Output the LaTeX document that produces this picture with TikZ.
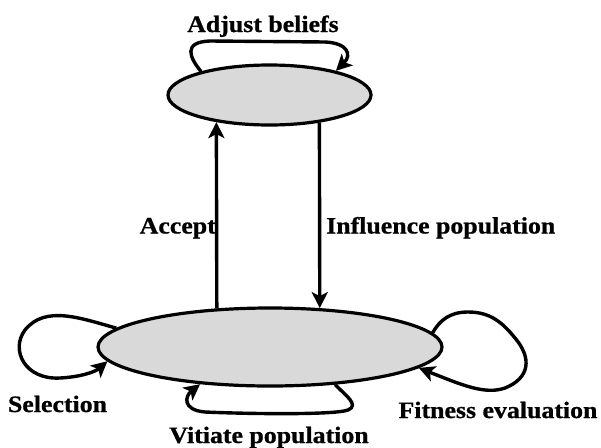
\documentclass[tikz,border=0pt]{standalone}
\usepackage{fontspec}
\setmainfont{Liberation Serif}[FakeStretch=1.1,BoldFeatures={FakeBold=0.8}]
\usetikzlibrary{arrows.meta,shapes.geometric}
\definecolor{fillgray}{HTML}{D9D9D9}
\tikzset{
  blob/.style={ellipse, draw=black, line width=3.2pt, fill=fillgray, inner sep=0pt},
  arr/.style={line width=3.4pt, -{Stealth[length=16pt,width=16pt,inset=4pt]}},
  lbl/.style={inner sep=0pt, font=\fontsize{23.5}{28}\selectfont\bfseries}
}
\begin{document}
\begin{tikzpicture}[x=1pt,y=-1pt]
\useasboundingbox (0,0) rectangle (601,447);
\node[blob, minimum width=203pt, minimum height=60pt] (cult) at (269.5,95) {};
\node[blob, minimum width=344pt, minimum height=78pt] (pop) at (270,347) {};
% vertical arrows
\draw[arr] (pop.144) -- (cult.207);
\draw[arr] (cult.331) -- (pop.38.6);
% adjust beliefs loop
\draw[arr] (cult.161.6) .. controls (190,58) and (182,42) .. (210,41)
  -- (325,42) .. controls (348,43) and (352,55) .. (cult.20.7);
% selection loop
\draw[arr] (pop.173.4) .. controls (80,318) and (45,305) .. (25,330)
  .. controls (10,350) and (25,380) .. (60,378)
  .. controls (80,377) and (95,372) .. (pop.185);
% fitness loop
\draw[arr] (pop.5.6) .. controls (440,320) and (450,312) .. (468,312)
  .. controls (490,312) and (502,322) .. (515,338)
  .. controls (532,358) and (530,378) .. (505,388)
  .. controls (485,395) and (462,385) .. (pop.352);
% vitiate loop
\draw[arr] (pop.330) .. controls (345,395) and (360,405) .. (348,410)
  .. controls (335,415) and (250,414) .. (205,412)
  .. controls (182,410) and (185,396) .. (pop.208.2);
% labels
\node[lbl, anchor=base] (tadj) at (263,32) {Adjust beliefs};
\node[lbl, anchor=base east] (tacc) at (216,233.5) {Accept};
\node[lbl, anchor=base west] (tinf) at (326,233.5) {Influence population};
\node[lbl, anchor=base] (tsel) at (57.5,412) {Selection};
\node[lbl, anchor=base] (tfit) at (498,418) {Fitness evaluation};
\node[lbl, anchor=base] (tvit) at (269,443) {Vitiate population};
\end{tikzpicture}
\end{document}
